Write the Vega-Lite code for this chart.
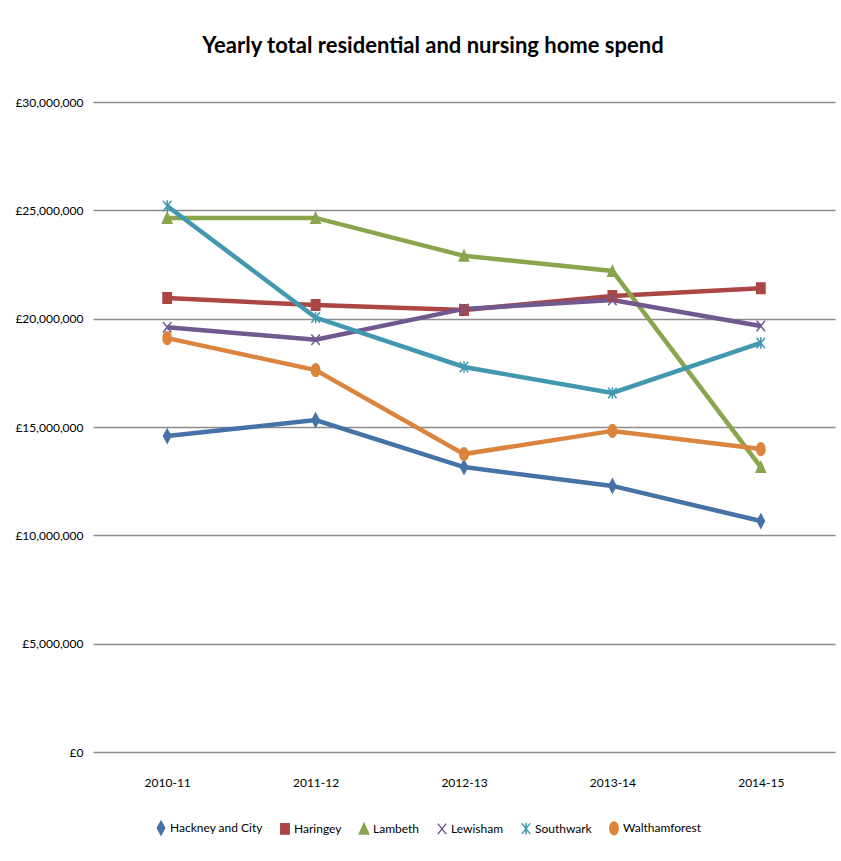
{
  "$schema": "https://vega.github.io/schema/vega-lite/v6.json",
  "autosize": "none",
  "width": 742,
  "height": 650,
  "padding": {"left": 93, "top": 102, "right": 6, "bottom": 109},
  "background": "white",
  "title": {
    "text": "Yearly total residential and nursing home spend",
    "font": "Lato",
    "fontSize": 22,
    "fontWeight": "bold",
    "color": "#000000",
    "anchor": "middle",
    "dx": -31,
    "offset": 38
  },
  "config": {
    "view": {"stroke": null},
    "font": "Lato"
  },
  "data": {
    "values": [
      {"year": "2010-11", "borough": "Hackney and City", "spend": 14580000},
      {"year": "2011-12", "borough": "Hackney and City", "spend": 15320000},
      {"year": "2012-13", "borough": "Hackney and City", "spend": 13150000},
      {"year": "2013-14", "borough": "Hackney and City", "spend": 12280000},
      {"year": "2014-15", "borough": "Hackney and City", "spend": 10660000},
      {"year": "2010-11", "borough": "Haringey", "spend": 20950000},
      {"year": "2011-12", "borough": "Haringey", "spend": 20630000},
      {"year": "2012-13", "borough": "Haringey", "spend": 20400000},
      {"year": "2013-14", "borough": "Haringey", "spend": 21050000},
      {"year": "2014-15", "borough": "Haringey", "spend": 21400000},
      {"year": "2010-11", "borough": "Lambeth", "spend": 24650000},
      {"year": "2011-12", "borough": "Lambeth", "spend": 24650000},
      {"year": "2012-13", "borough": "Lambeth", "spend": 22900000},
      {"year": "2013-14", "borough": "Lambeth", "spend": 22200000},
      {"year": "2014-15", "borough": "Lambeth", "spend": 13150000},
      {"year": "2010-11", "borough": "Lewisham", "spend": 19600000},
      {"year": "2011-12", "borough": "Lewisham", "spend": 19030000},
      {"year": "2012-13", "borough": "Lewisham", "spend": 20450000},
      {"year": "2013-14", "borough": "Lewisham", "spend": 20860000},
      {"year": "2014-15", "borough": "Lewisham", "spend": 19660000},
      {"year": "2010-11", "borough": "Southwark", "spend": 25200000},
      {"year": "2011-12", "borough": "Southwark", "spend": 20050000},
      {"year": "2012-13", "borough": "Southwark", "spend": 17770000},
      {"year": "2013-14", "borough": "Southwark", "spend": 16570000},
      {"year": "2014-15", "borough": "Southwark", "spend": 18880000},
      {"year": "2010-11", "borough": "Walthamforest", "spend": 19100000},
      {"year": "2011-12", "borough": "Walthamforest", "spend": 17630000},
      {"year": "2012-13", "borough": "Walthamforest", "spend": 13750000},
      {"year": "2013-14", "borough": "Walthamforest", "spend": 14820000},
      {"year": "2014-15", "borough": "Walthamforest", "spend": 13980000}
    ]
  },
  "encoding": {
    "x": {
      "field": "year",
      "type": "ordinal",
      "scale": {"type": "point", "padding": 0.5},
      "axis": {
        "title": null,
        "labelAngle": 0,
        "domain": false,
        "ticks": false,
        "grid": false,
        "labelFontSize": 12,
        "labelColor": "#000000",
        "labelPadding": 25
      }
    },
    "y": {
      "field": "spend",
      "type": "quantitative",
      "scale": {"domain": [0, 30000000], "nice": false},
      "axis": {
        "title": null,
        "values": [0, 5000000, 10000000, 15000000, 20000000, 25000000, 30000000],
        "labelExpr": "'£' + format(datum.value, ',')",
        "domain": false,
        "ticks": false,
        "grid": true,
        "gridColor": "#8c8c8c",
        "gridWidth": 1.5,
        "labelFontSize": 12,
        "labelColor": "#000000",
        "labelPadding": 10
      }
    }
  },
  "layer": [
    {
      "mark": {"type": "line", "strokeWidth": 4.5},
      "encoding": {
        "color": {
          "field": "borough",
          "type": "nominal",
          "scale": {
            "domain": ["Hackney and City", "Haringey", "Lambeth", "Lewisham", "Southwark", "Walthamforest"],
            "range": ["#4572A7", "#AA4643", "#89A54E", "#71588F", "#4198AF", "#DB843D"]
          }
        }
      }
    },
    {
      "mark": {"type": "point", "filled": true, "opacity": 1, "strokeWidth": 1.5},
      "encoding": {
        "stroke": {
          "field": "borough",
          "type": "nominal",
          "scale": {
            "domain": ["Hackney and City", "Haringey", "Lambeth", "Lewisham", "Southwark", "Walthamforest"],
            "range": ["#4572A7", "#AA4643", "#89A54E", "#71588F", "#4198AF", "#DB843D"]
          }
        },
        "fill": {
          "field": "borough",
          "type": "nominal",
          "scale": {
            "domain": ["Hackney and City", "Haringey", "Lambeth", "Lewisham", "Southwark", "Walthamforest"],
            "range": ["#4572A7", "#AA4643", "#89A54E", "#71588F", "#4198AF", "#DB843D"]
          }
        },
        "shape": {
          "field": "borough",
          "type": "nominal",
          "scale": {
            "domain": ["Hackney and City", "Haringey", "Lambeth", "Lewisham", "Southwark", "Walthamforest"],
            "range": ["M0,-1.3L0.7,0L0,1.3L-0.7,0Z", "M-0.8,-1L0.8,-1L0.8,1L-0.8,1Z", "M0,-1L0.9,1L-0.9,1Z", "M-0.8,-1L0.8,1M-0.8,1L0.8,-1", "M-0.8,-1L0.8,1M-0.8,1L0.8,-1M0,-1.1L0,1.1", "M0,-1.2A0.8,1.2 0 1,1 0,1.2A0.8,1.2 0 1,1 0,-1.2Z"]
          },
          "legend": {
            "title": null,
            "orient": "none",
            "direction": "horizontal",
            "legendX": 62,
            "legendY": 720,
            "labelFontSize": 12,
            "labelColor": "#000000",
            "symbolSize": 110,
            "columnPadding": 14,
            "labelOffset": 3,
            "symbolStrokeWidth": 1.5
          }
        },
        "size": {"value": 110}
      }
    }
  ]
}
